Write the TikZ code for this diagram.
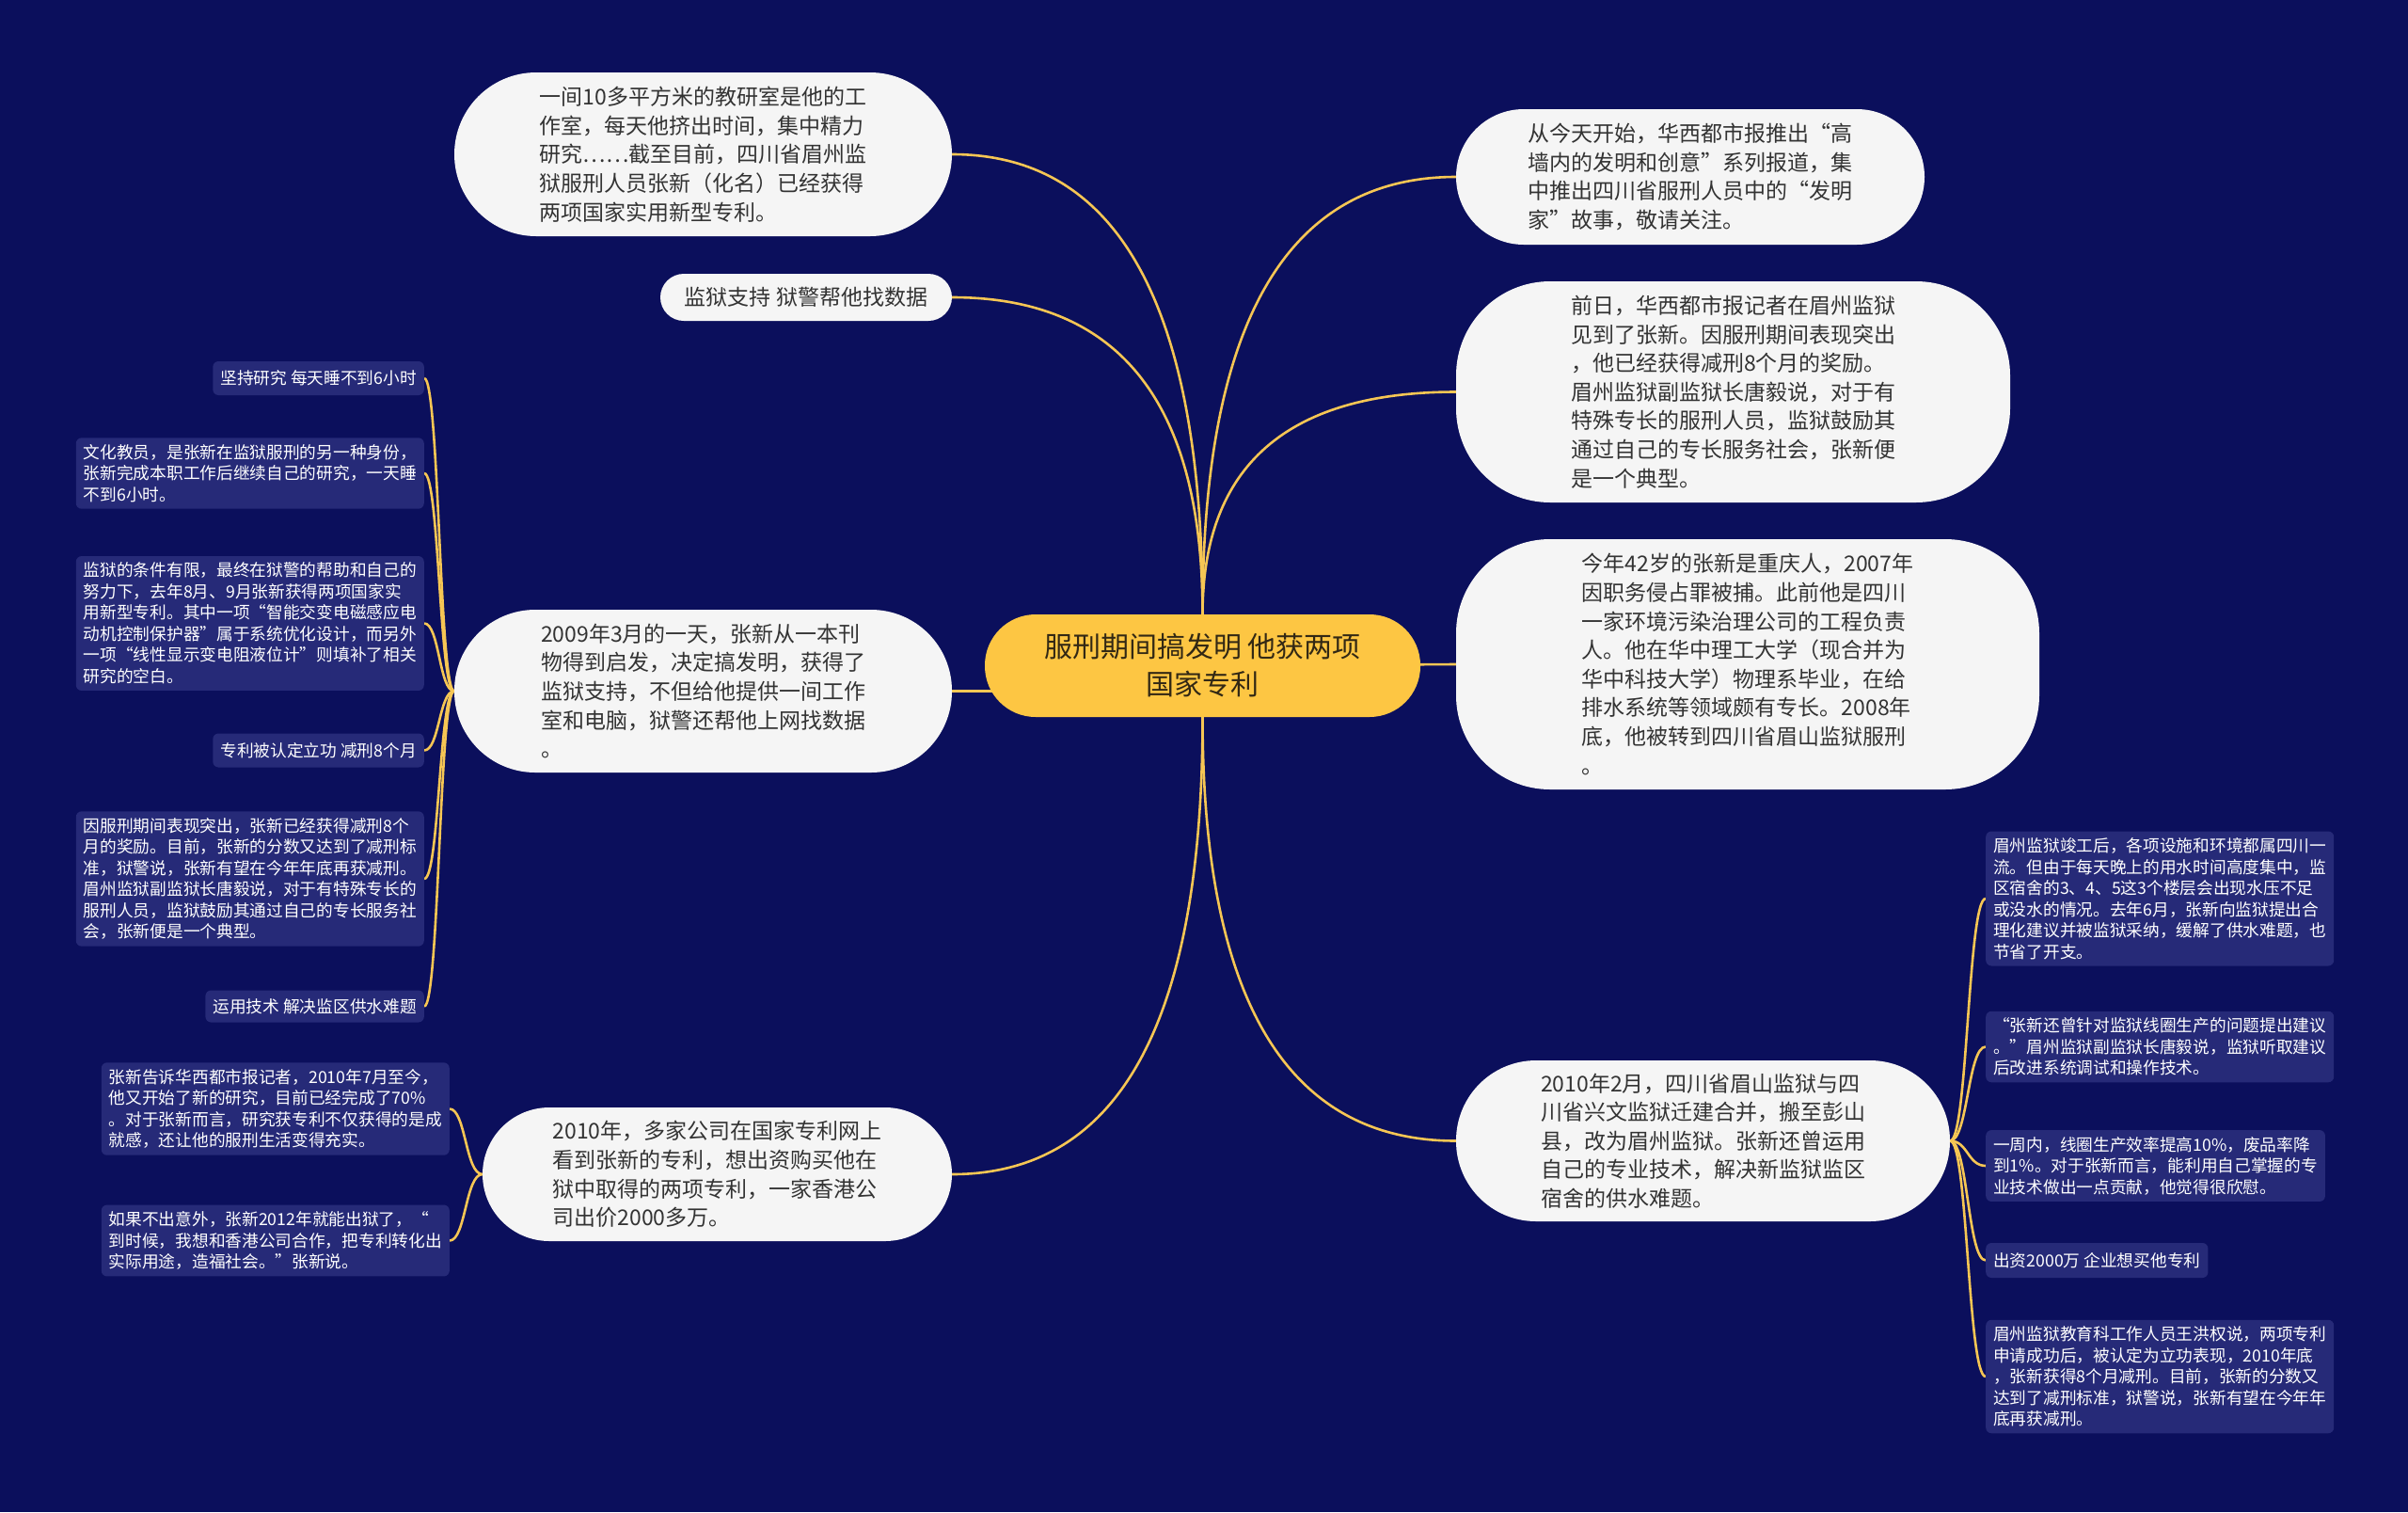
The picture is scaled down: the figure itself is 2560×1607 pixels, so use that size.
\documentclass[tikz,border=0pt]{standalone}
\usepackage{fontspec}
\newfontfamily\cjk{Noto Sans CJK SC}
\usetikzlibrary{calc}
\definecolor{bgc}{RGB}{11,15,92}
\definecolor{mainc}{RGB}{245,245,245}
\definecolor{maintext}{RGB}{51,51,51}
\definecolor{leafc}{RGB}{38,42,120}
\definecolor{cenc}{RGB}{253,198,67}
\definecolor{centext}{RGB}{50,40,20}
\definecolor{connc}{RGB}{246,198,84}
\pgfdeclarelayer{back}
\pgfsetlayers{back,main}
\newcommand\qlink[2]{\draw[link] (#1) .. controls ($(#1)!0.667!(#1 |- #2)$) and ($(#2)!0.667!(#1 |- #2)$) .. (#2);}
\newcommand\blink[3]{\draw[link] (#1) .. controls (#3 |- #1) and (#3 |- #2) .. (#2);}
\begin{document}
\begin{tikzpicture}[x=1pt,y=-1pt,
  mainbox/.style={fill=mainc, text=maintext, inner sep=0pt, align=left, font={\cjk\fontsize{23}{30.6}\selectfont}},
  leafbox/.style={fill=leafc, text=white, rounded corners=6pt, inner xsep=8pt, inner ysep=7pt, align=left, font={\cjk\fontsize{17.7}{22.5}\selectfont}},
  link/.style={draw=connc, line width=2.6pt},
]
\useasboundingbox (0,0) rectangle (2560,1607);

% central
\node[fill=cenc, text=centext, rounded corners=54pt, minimum width=463pt, minimum height=109pt, align=center, inner sep=0pt, font={\cjk\fontsize{30}{40}\selectfont}] (c) at (1278.5,707.5) {服刑期间搞发明 他获两项\\国家专利};

% main nodes left
\node[mainbox, rounded corners=87pt, minimum width=529pt, minimum height=174pt] (n1) at (747.5,164) {一间10多平方米的教研室是他的工\\作室，每天他挤出时间，集中精力\\研究……截至目前，四川省眉州监\\狱服刑人员张新（化名）已经获得\\两项国家实用新型专利。};
\node[mainbox, rounded corners=25pt, minimum width=310pt, minimum height=50pt] (n2) at (857,316) {监狱支持 狱警帮他找数据};
\node[mainbox, rounded corners=86pt, minimum width=529pt, minimum height=173pt] (n3) at (747.5,734.5) {2009年3月的一天，张新从一本刊\\物得到启发，决定搞发明，获得了\\监狱支持，不但给他提供一间工作\\室和电脑，狱警还帮他上网找数据\\。};
\node[mainbox, rounded corners=71pt, minimum width=499pt, minimum height=142pt] (n4) at (762.5,1248) {2010年，多家公司在国家专利网上\\看到张新的专利，想出资购买他在\\狱中取得的两项专利，一家香港公\\司出价2000多万。};

% main nodes right
\node[mainbox, rounded corners=72pt, minimum width=498pt, minimum height=144pt] (r1) at (1797,188) {从今天开始，华西都市报推出“高\\墙内的发明和创意”系列报道，集\\中推出四川省服刑人员中的“发明\\家”故事，敬请关注。};
\node[mainbox, rounded corners=100pt, minimum width=589pt, minimum height=235pt] (r2) at (1842.5,416.5) {前日，华西都市报记者在眉州监狱\\见到了张新。因服刑期间表现突出\\，他已经获得减刑8个月的奖励。\\眉州监狱副监狱长唐毅说，对于有\\特殊专长的服刑人员，监狱鼓励其\\通过自己的专长服务社会，张新便\\是一个典型。};
\node[mainbox, rounded corners=100pt, minimum width=620pt, minimum height=266pt] (r3) at (1858,706) {今年42岁的张新是重庆人，2007年\\因职务侵占罪被捕。此前他是四川\\一家环境污染治理公司的工程负责\\人。他在华中理工大学（现合并为\\华中科技大学）物理系毕业，在给\\排水系统等领域颇有专长。2008年\\底，他被转到四川省眉山监狱服刑\\。};
\node[mainbox, rounded corners=85pt, minimum width=525pt, minimum height=171pt] (r4) at (1810.5,1212.5) {2010年2月，四川省眉山监狱与四\\川省兴文监狱迁建合并，搬至彭山\\县，改为眉州监狱。张新还曾运用\\自己的专业技术，解决新监狱监区\\宿舍的供水难题。};

% leaves of n3
\node[leafbox, anchor=east, minimum height=36pt] (a1) at (451,402) {坚持研究 每天睡不到6小时};
\node[leafbox, anchor=east] (a2) at (451,503) {文化教员，是张新在监狱服刑的另一种身份，\\张新完成本职工作后继续自己的研究，一天睡\\不到6小时。};
\node[leafbox, anchor=east] (a3) at (451,662.5) {监狱的条件有限，最终在狱警的帮助和自己的\\努力下，去年8月、9月张新获得两项国家实\\用新型专利。其中一项“智能交变电磁感应电\\动机控制保护器”属于系统优化设计，而另外\\一项“线性显示变电阻液位计”则填补了相关\\研究的空白。};
\node[leafbox, anchor=east, minimum height=36pt] (a4) at (451,797.5) {专利被认定立功 减刑8个月};
\node[leafbox, anchor=east] (a5) at (451,934) {因服刑期间表现突出，张新已经获得减刑8个\\月的奖励。目前，张新的分数又达到了减刑标\\准，狱警说，张新有望在今年年底再获减刑。\\眉州监狱副监狱长唐毅说，对于有特殊专长的\\服刑人员，监狱鼓励其通过自己的专长服务社\\会，张新便是一个典型。};
\node[leafbox, anchor=east, minimum height=34pt] (a6) at (451,1069.5) {运用技术 解决监区供水难题};

% leaves of n4
\node[leafbox, anchor=east] (b1) at (478,1178.5) {张新告诉华西都市报记者，2010年7月至今，\\他又开始了新的研究，目前已经完成了70\%\\。对于张新而言，研究获专利不仅获得的是成\\就感，还让他的服刑生活变得充实。};
\node[leafbox, anchor=east] (b2) at (478,1318.5) {如果不出意外，张新2012年就能出狱了，“\\到时候，我想和香港公司合作，把专利转化出\\实际用途，造福社会。”张新说。};

% leaves of r4
\node[leafbox, anchor=west] (d1) at (2111,955) {眉州监狱竣工后，各项设施和环境都属四川一\\流。但由于每天晚上的用水时间高度集中，监\\区宿舍的3、4、5这3个楼层会出现水压不足\\或没水的情况。去年6月，张新向监狱提出合\\理化建议并被监狱采纳，缓解了供水难题，也\\节省了开支。};
\node[leafbox, anchor=west] (d2) at (2111,1112.5) {“张新还曾针对监狱线圈生产的问题提出建议\\。”眉州监狱副监狱长唐毅说，监狱听取建议\\后改进系统调试和操作技术。};
\node[leafbox, anchor=west] (d3) at (2111,1239) {一周内，线圈生产效率提高10\%，废品率降\\到1\%。对于张新而言，能利用自己掌握的专\\业技术做出一点贡献，他觉得很欣慰。};
\node[leafbox, anchor=west, minimum height=37pt] (d4) at (2111,1339.5) {出资2000万 企业想买他专利};
\node[leafbox, anchor=west] (d5) at (2111,1463) {眉州监狱教育科工作人员王洪权说，两项专利\\申请成功后，被认定为立功表现，2010年底\\，张新获得8个月减刑。目前，张新的分数又\\达到了减刑标准，狱警说，张新有望在今年年\\底再获减刑。};

\coordinate (s1) at (467,0);
\coordinate (s2) at (495,0);
\coordinate (s3) at (2092,0);

\begin{pgfonlayer}{back}
\fill[bgc] (0,0) rectangle (2560,1607);
\qlink{c.north}{n1.east}
\qlink{c.north}{n2.east}
\qlink{c.north}{r1.west}
\qlink{c.north}{r2.west}
\qlink{c.south}{n4.east}
\qlink{c.south}{r4.west}
\draw[link] (n3.east) -- (c.center |- n3.east);
\draw[link] (c.center) -- (r3.west);
\blink{n3.west}{a1.east}{s1}
\blink{n3.west}{a2.east}{s1}
\blink{n3.west}{a3.east}{s1}
\blink{n3.west}{a4.east}{s1}
\blink{n3.west}{a5.east}{s1}
\blink{n3.west}{a6.east}{s1}
\blink{n4.west}{b1.east}{s2}
\blink{n4.west}{b2.east}{s2}
\blink{r4.east}{d1.west}{s3}
\blink{r4.east}{d2.west}{s3}
\blink{r4.east}{d3.west}{s3}
\blink{r4.east}{d4.west}{s3}
\blink{r4.east}{d5.west}{s3}
\end{pgfonlayer}
\end{tikzpicture}
\end{document}
